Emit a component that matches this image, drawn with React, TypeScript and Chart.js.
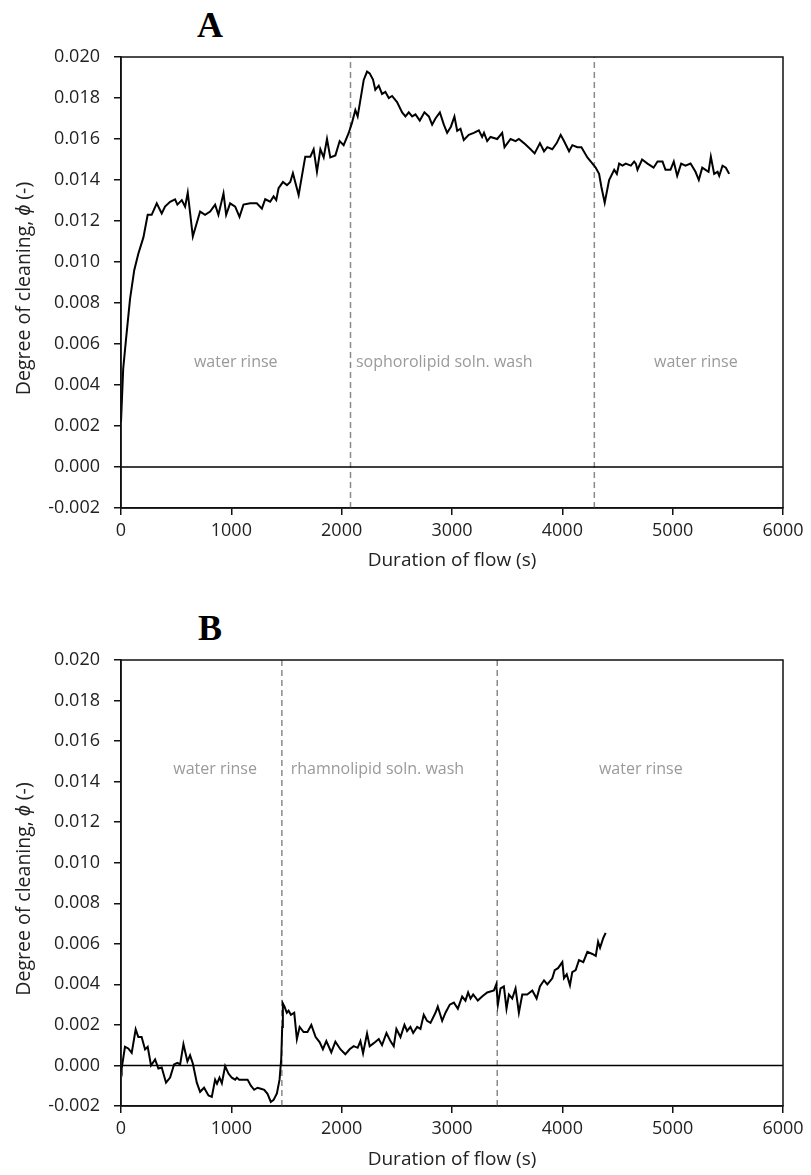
import React, { useEffect, useRef } from 'react';
import { Chart, registerables } from 'chart.js';

Chart.register(...registerables);

// ---------- Data: panel A (sophorolipid) ----------
const timesA = [0, 20, 45, 82, 120, 157, 203, 242, 278, 324, 369, 399, 445, 490, 511, 551, 581, 605, 651, 717, 762, 808, 853, 883, 929, 953, 989, 1035, 1074, 1110, 1171, 1231, 1277, 1307, 1352, 1383, 1407, 1428, 1468, 1504, 1534, 1558, 1610, 1670, 1716, 1746, 1776, 1807, 1837, 1867, 1897, 1943, 1982, 2018, 2063, 2094, 2124, 2145, 2200, 2230, 2254, 2284, 2305, 2336, 2366, 2396, 2427, 2457, 2502, 2548, 2578, 2608, 2639, 2669, 2708, 2750, 2790, 2820, 2850, 2890, 2926, 2956, 2990, 3022, 3047, 3077, 3107, 3152, 3198, 3243, 3273, 3290, 3319, 3349, 3410, 3455, 3476, 3531, 3576, 3606, 3652, 3712, 3749, 3797, 3834, 3864, 3909, 3949, 3985, 4015, 4061, 4091, 4136, 4173, 4227, 4273, 4303, 4333, 4354, 4384, 4424, 4470, 4494, 4515, 4545, 4575, 4621, 4651, 4666, 4681, 4723, 4772, 4827, 4863, 4908, 4935, 4980, 5010, 5041, 5077, 5116, 5162, 5207, 5237, 5268, 5325, 5346, 5376, 5407, 5422, 5452, 5482, 5512];
const phiA = [0.0022, 0.0048, 0.0062, 0.0082, 0.0096, 0.0104, 0.0112, 0.0123, 0.0123, 0.01286, 0.01237, 0.0127, 0.01294, 0.01306, 0.0128, 0.01302, 0.0127, 0.01338, 0.01124, 0.01246, 0.0123, 0.01246, 0.0128, 0.0123, 0.01335, 0.0123, 0.01286, 0.0127, 0.0122, 0.0128, 0.01286, 0.01286, 0.0126, 0.01306, 0.01294, 0.0132, 0.01302, 0.0136, 0.0139, 0.01375, 0.0139, 0.01433, 0.01327, 0.01514, 0.01514, 0.0155, 0.0144, 0.0155, 0.0151, 0.016, 0.0151, 0.0152, 0.0159, 0.0157, 0.01628, 0.0168, 0.01741, 0.0171, 0.01888, 0.01929, 0.0192, 0.0189, 0.0184, 0.0186, 0.0182, 0.0183, 0.018, 0.0181, 0.0178, 0.0173, 0.0171, 0.0173, 0.0171, 0.0172, 0.0169, 0.0173, 0.0171, 0.0167, 0.017, 0.0173, 0.0167, 0.0163, 0.0166, 0.01709, 0.0164, 0.0165, 0.01595, 0.0162, 0.0163, 0.01642, 0.0161, 0.0163, 0.0159, 0.0161, 0.016, 0.0163, 0.0156, 0.016, 0.0159, 0.016, 0.0158, 0.0155, 0.0153, 0.0158, 0.0154, 0.0156, 0.0155, 0.0158, 0.0162, 0.0159, 0.0154, 0.0157, 0.0156, 0.0156, 0.0151, 0.0148, 0.0146, 0.0143, 0.01366, 0.01289, 0.014, 0.0145, 0.0143, 0.0148, 0.0147, 0.0148, 0.0147, 0.0149, 0.0148, 0.0145, 0.015, 0.0148, 0.0146, 0.0149, 0.0149, 0.0145, 0.0145, 0.0149, 0.0142, 0.0148, 0.0147, 0.0148, 0.0144, 0.014, 0.0146, 0.0144, 0.01514, 0.0143, 0.0144, 0.0142, 0.0147, 0.0146, 0.0143];
const switchTimesA = [2080, 4290];
const regionNamesA = ['water rinse', 'sophorolipid soln. wash', 'water rinse'];
const regionTimesA = [1040, 2930, 5210];
const regionPhiA = 0.0051;

// ---------- Data: panel B (rhamnolipid) ----------
const timesB = [0, 6, 36, 66, 97, 133, 157, 187, 218, 242, 272, 309, 339, 369, 408, 445, 481, 511, 536, 566, 602, 626, 651, 687, 717, 753, 793, 823, 853, 870, 893, 914, 944, 974, 1004, 1035, 1050, 1071, 1147, 1177, 1207, 1237, 1268, 1298, 1328, 1358, 1383, 1413, 1437, 1452, 1461, 1467, 1482, 1503, 1519, 1540, 1570, 1594, 1619, 1655, 1690, 1725, 1764, 1800, 1830, 1861, 1906, 1943, 1988, 2033, 2072, 2109, 2145, 2170, 2194, 2230, 2254, 2291, 2336, 2366, 2406, 2442, 2472, 2496, 2533, 2569, 2593, 2623, 2648, 2684, 2714, 2744, 2774, 2805, 2850, 2871, 2911, 2941, 2980, 3017, 3053, 3092, 3122, 3146, 3168, 3192, 3234, 3273, 3319, 3380, 3401, 3416, 3440, 3470, 3494, 3516, 3546, 3576, 3606, 3637, 3682, 3728, 3767, 3797, 3834, 3864, 3909, 3931, 3961, 4000, 4015, 4040, 4069, 4090, 4121, 4151, 4190, 4227, 4272, 4303, 4324, 4342, 4372, 4393];
const phiB = [0.0, -0.00015, 0.00092, 0.00084, 0.00062, 0.00178, 0.0014, 0.0014, 0.00079, 0.00092, 0.0, 0.0003, -0.00015, -0.0001, -0.00085, -0.0006, 0.00005, 0.00013, 0.00005, 0.00105, 0.0002, 0.0005, 0.0001, -0.00085, -0.0013, -0.0011, -0.00148, -0.00155, -0.0007, -0.0009, -0.0006, -0.00088, -0.00003, -0.0004, -0.0006, -0.0007, -0.0006, -0.0007, -0.0007, -0.001, -0.0012, -0.0011, -0.00115, -0.0012, -0.0014, -0.0018, -0.0017, -0.00138, -0.0007, 0.0003, 0.0019, 0.00306, 0.0029, 0.0026, 0.0027, 0.0025, 0.0026, 0.0013, 0.0019, 0.00165, 0.00165, 0.002, 0.0014, 0.00115, 0.0008, 0.0012, 0.00065, 0.00117, 0.0008, 0.00055, 0.0008, 0.00095, 0.00087, 0.0012, 0.0006, 0.00158, 0.00095, 0.0011, 0.0013, 0.001, 0.0016, 0.0012, 0.00095, 0.0018, 0.0014, 0.002, 0.0017, 0.0019, 0.0016, 0.0019, 0.0018, 0.0025, 0.0022, 0.0021, 0.0026, 0.0029, 0.0022, 0.0026, 0.003, 0.0031, 0.0028, 0.0034, 0.0032, 0.0036, 0.0033, 0.0035, 0.0032, 0.0034, 0.0036, 0.0037, 0.004, 0.003, 0.0038, 0.0039, 0.0028, 0.0035, 0.0033, 0.0038, 0.0026, 0.0035, 0.0035, 0.0037, 0.0033, 0.0039, 0.0042, 0.004, 0.0043, 0.0047, 0.0048, 0.0051, 0.0043, 0.0045, 0.00395, 0.0046, 0.0047, 0.0052, 0.0051, 0.0056, 0.0055, 0.0054, 0.0061, 0.0058, 0.0063, 0.00654];
const switchTimesB = [1458, 3410];
const regionNamesB = ['water rinse', 'rhamnolipid soln. wash', 'water rinse'];
const regionTimesB = [853, 2324, 4711];
const regionPhiB = 0.01462;

// ---------- Axis setup ----------
const xMin = 0;
const xMax = 6000;
const xStep = 1000;
const yMin = -0.002;
const yMax = 0.02;
const yStep = 0.002;
const xTitle = 'Duration of flow (s)';
const yTitleParts = [
  { text: 'Degree of cleaning, ', italic: false },
  { text: 'ϕ', italic: true },
  { text: ' (-)', italic: false },
];

const FONT = '"Open Sans", sans-serif';

const framePlugin = {
  id: 'frame',
  afterDatasetsDraw(chart: any) {
    const { ctx, chartArea } = chart;
    const { left, top, right, bottom } = chartArea;
    ctx.save();
    ctx.strokeStyle = '#111';
    ctx.lineWidth = 1.5;
    ctx.strokeRect(left, top, right - left, bottom - top);
    ctx.restore();
  },
};

const regionLabelPlugin = {
  id: 'regionLabels',
  afterDatasetsDraw(chart: any, _args: any, opts: any) {
    if (!opts || !opts.names) return;
    const { ctx, scales } = chart;
    ctx.save();
    ctx.fillStyle = '#9a9a9a';
    ctx.font = `16px ${FONT}`;
    ctx.textAlign = 'center';
    ctx.textBaseline = 'middle';
    opts.names.forEach((name: string, i: number) => {
      const px = scales.x.getPixelForValue(opts.xs[i]);
      const py = scales.y.getPixelForValue(opts.y);
      ctx.fillText(name, px, py);
    });
    ctx.restore();
  },
};

const yTitlePlugin = {
  id: 'yTitle',
  afterDraw(chart: any, _args: any, opts: any) {
    const { ctx, chartArea } = chart;
    const size = 19.5;
    const normal = `${size}px ${FONT}`;
    const italic = `italic ${size}px ${FONT}`;
    ctx.save();
    let total = 0;
    const widths = yTitleParts.map((p) => {
      ctx.font = p.italic ? italic : normal;
      const w = ctx.measureText(p.text).width;
      total += w;
      return w;
    });
    const cx = chartArea.left - (opts.offsetX ?? 97);
    const cy = (chartArea.top + chartArea.bottom) / 2 + (opts.offsetY ?? 0);
    ctx.translate(cx, cy);
    ctx.rotate(-Math.PI / 2);
    ctx.fillStyle = '#222';
    ctx.textBaseline = 'middle';
    ctx.textAlign = 'left';
    let x = -total / 2;
    yTitleParts.forEach((p, i) => {
      ctx.font = p.italic ? italic : normal;
      ctx.fillText(p.text, x, 0);
      x += widths[i];
    });
    ctx.restore();
  },
};

type PanelProps = {
  times: number[];
  phi: number[];
  switches: number[];
  names: string[];
  regionXs: number[];
  regionY: number;
  padTop: number;
  xAxisHeight: number;
};

function Panel({ times, phi, switches, names, regionXs, regionY, padTop, xAxisHeight }: PanelProps) {
  const ref = useRef<HTMLCanvasElement | null>(null);

  useEffect(() => {
    if (!ref.current) return;
    const datasets: any[] = [
      {
        label: 'phi',
        data: times.map((t, i) => ({ x: t, y: phi[i] })),
        borderColor: '#000',
        borderWidth: 2,
        pointRadius: 0,
        tension: 0,
        fill: false,
      },
      {
        label: 'zero',
        data: [
          { x: xMin, y: 0 },
          { x: xMax, y: 0 },
        ],
        borderColor: '#000',
        borderWidth: 1.5,
        pointRadius: 0,
        fill: false,
      },
      ...switches.map((s) => ({
        label: 'switch',
        data: [
          { x: s, y: yMin },
          { x: s, y: yMax },
        ],
        borderColor: '#8a8a8a',
        borderWidth: 1.5,
        borderDash: [6, 4],
        pointRadius: 0,
        fill: false,
      })),
    ];

    const chart = new Chart(ref.current, {
      type: 'line',
      data: { datasets },
      plugins: [framePlugin, regionLabelPlugin, yTitlePlugin],
      options: {
        animation: false,
        responsive: true,
        maintainAspectRatio: false,
        layout: { padding: { top: padTop, right: 28, bottom: 0, left: 0 } },
        plugins: {
          legend: { display: false },
          tooltip: { enabled: false },
          regionLabels: { names, xs: regionXs, y: regionY },
          yTitle: { offsetX: 97, offsetY: 6 },
        } as any,
        scales: {
          x: {
            type: 'linear',
            min: xMin,
            max: xMax,
            ticks: {
              stepSize: xStep,
              color: '#222',
              font: { family: FONT, size: 18 },
              padding: 5,
              maxRotation: 0,
              callback: (v: any) => String(v),
            },
            grid: {
              drawOnChartArea: false,
              drawTicks: true,
              tickLength: 7,
              color: '#111',
              lineWidth: 1.5,
            },
            border: { display: true, color: '#111', width: 1.5 },
            title: {
              display: true,
              text: xTitle,
              color: '#222',
              font: { family: FONT, size: 19 },
              padding: { top: 0, bottom: 4 },
            },
            afterFit: (scale: any) => {
              scale.height = xAxisHeight;
            },
          },
          y: {
            type: 'linear',
            min: yMin,
            max: yMax,
            ticks: {
              stepSize: yStep,
              color: '#222',
              font: { family: FONT, size: 18 },
              padding: 14,
              callback: (v: any) => Number(v).toFixed(3),
            },
            grid: {
              drawOnChartArea: false,
              drawTicks: true,
              tickLength: 7,
              color: '#111',
              lineWidth: 1.5,
            },
            border: { display: true, color: '#111', width: 1.5 },
            afterFit: (scale: any) => {
              scale.width = 121;
            },
          },
        },
      } as any,
    });
    return () => chart.destroy();
  }, []);

  return <canvas ref={ref} />;
}

const letterStyle: React.CSSProperties = {
  position: 'absolute',
  left: 180,
  width: 60,
  textAlign: 'center',
  fontFamily: '"Liberation Serif", "Times New Roman", serif',
  fontWeight: 'bold',
  fontSize: 36,
  lineHeight: '36px',
  color: '#000',
};

export default function App() {
  return (
    <div style={{ position: 'absolute', left: 0, top: 0, width: 811, height: 1175, background: '#fff' }}>
      <div style={{ ...letterStyle, top: 7 }}>A</div>
      <div style={{ position: 'absolute', left: 0, top: 0, width: 811, height: 576 }}>
        <Panel
          times={timesA}
          phi={phiA}
          switches={switchTimesA}
          names={regionNamesA}
          regionXs={regionTimesA}
          regionY={regionPhiA}
          padTop={57}
          xAxisHeight={68}
        />
      </div>
      <div style={{ ...letterStyle, top: 610 }}>B</div>
      <div style={{ position: 'absolute', left: 0, top: 600, width: 811, height: 575 }}>
        <Panel
          times={timesB}
          phi={phiB}
          switches={switchTimesB}
          names={regionNamesB}
          regionXs={regionTimesB}
          regionY={regionPhiB}
          padTop={60}
          xAxisHeight={69}
        />
      </div>
    </div>
  );
}
